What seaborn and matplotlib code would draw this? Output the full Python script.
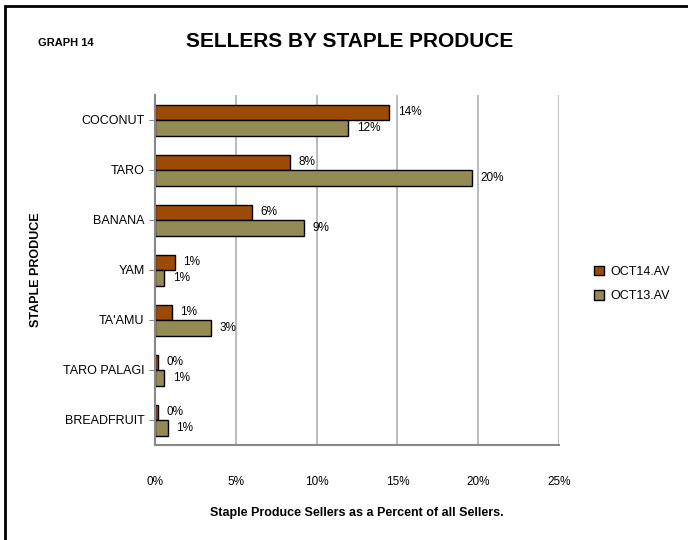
import pandas as pd
import matplotlib.pyplot as plt
import seaborn as sns
from matplotlib.patches import Rectangle

produce = ['COCONUT', 'TARO', 'BANANA', 'YAM', "TA'AMU", 'TARO PALAGI', 'BREADFRUIT']
oct14 = [14.5, 8.35, 6.0, 1.24, 1.03, 0.17, 0.17]
oct13 = [11.96, 19.6, 9.24, 0.58, 3.45, 0.58, 0.78]
series = ['OCT14.AV', 'OCT13.AV']
xticks = [0, 5, 10, 15, 20, 25]

df = pd.DataFrame({
    'produce': produce * 2,
    'pct': oct14 + oct13,
    'series': [series[0]] * len(produce) + [series[1]] * len(produce),
})

sns.set_style('white')
plt.rcParams['font.family'] = ['Liberation Sans', 'DejaVu Sans']
plt.rcParams['text.color'] = 'black'
plt.rcParams['axes.labelcolor'] = 'black'
plt.rcParams['xtick.color'] = 'black'
plt.rcParams['ytick.color'] = 'black'

fig = plt.figure(figsize=(6.88, 5.4), dpi=100)
ax = fig.add_axes([155 / 688, 1 - 445 / 540, 404 / 688, 350 / 540])

sns.barplot(data=df, x='pct', y='produce', hue='series', order=produce, hue_order=series,
            palette=['#9C4A08', '#948A54'], saturation=1, edgecolor='black', linewidth=1.0,
            width=0.62, orient='h', ax=ax)

for cont in ax.containers:
    ax.bar_label(cont, labels=[f'{v:.0f}%' for v in cont.datavalues], padding=6, fontsize=8.5)

ax.set_xlim(0, 25)
ax.set_xticks(xticks)
ax.set_xticklabels([f'{t}%' for t in xticks], fontsize=8.5)
ax.tick_params(axis='x', length=4, color='#888888', pad=18)
ax.tick_params(axis='y', length=4, color='#888888', labelsize=9, left=True)
ax.xaxis.grid(True, color='#b0b0b0', linewidth=1.2)
ax.yaxis.grid(False)
ax.set_axisbelow(True)
for s in ['top', 'right']:
    ax.spines[s].set_visible(False)
for s in ['left', 'bottom']:
    ax.spines[s].set_color('#888888')
    ax.spines[s].set_linewidth(1.5)

ax.set_xlabel('Staple Produce Sellers as a Percent of all Sellers.', fontsize=9, fontweight='bold', labelpad=14)
ax.set_ylabel('STAPLE PRODUCE', fontsize=9, fontweight='bold')
ax.yaxis.set_label_coords(-0.28, 0.5)

leg = ax.legend(loc='center left', bbox_to_anchor=(1.06, 0.46), frameon=False, fontsize=9,
                handlelength=0.8, handleheight=0.8, handletextpad=0.5, labelspacing=1.0)

fig.text(38 / 688, 1 - 43 / 540, 'GRAPH 14', fontsize=8, fontweight='bold', va='center')
fig.text(350 / 688, 1 - 42 / 540, 'SELLERS BY STAPLE PRODUCE', fontsize=15, fontweight='bold',
         ha='center', va='center')

fig.patches.append(Rectangle((5 / 688, -0.1), 1.1, 1.1 - 6 / 540, transform=fig.transFigure,
                             fill=False, edgecolor='black', linewidth=2))

plt.savefig('out.png', dpi=100)
